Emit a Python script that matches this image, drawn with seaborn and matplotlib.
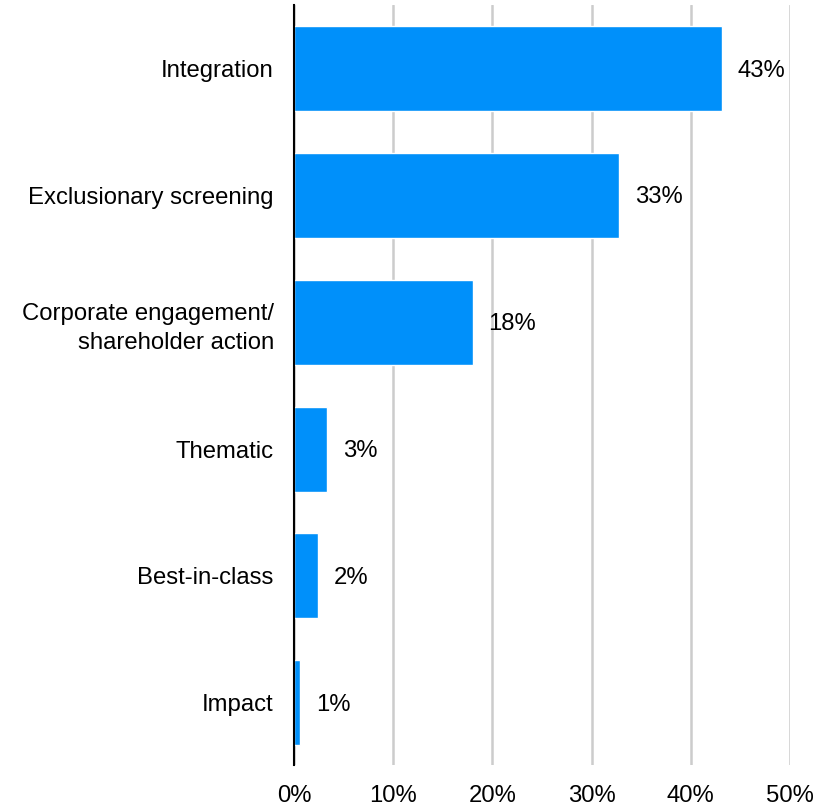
import matplotlib
matplotlib.use("Agg")
import matplotlib.pyplot as plt
import seaborn as sns
import pandas as pd

# Share of assets by responsible-investment strategy (percent)
strategies = [
    "Integration",
    "Exclusionary screening",
    "Corporate engagement/\nshareholder action",
    "Thematic",
    "Best-in-class",
    "Impact",
]
shares = [43.1, 32.8, 18.0, 3.3, 2.4, 0.6]
x_ticks = [0, 10, 20, 30, 40, 50]
x_tick_labels = ["0%", "10%", "20%", "30%", "40%", "50%"]

df = pd.DataFrame({"strategy": strategies, "share": shares})

sns.set_theme(style="white")
plt.rcParams["font.family"] = ["Liberation Sans", "DejaVu Sans"]

fig = plt.figure(figsize=(8.31, 8.07), dpi=100)
ax = fig.add_axes([294 / 831, 1 - 765 / 807, (790 - 294) / 831, (765 - 5) / 807])

sns.barplot(data=df, x="share", y="strategy", orient="h", color="#0090FA",
            saturation=1, width=0.67, ax=ax, zorder=3)

ax.set_xlim(0, 50)
ax.set_ylim(5.49, -0.5)
ax.set_xticks(x_ticks)
ax.set_xticklabels(x_tick_labels)
ax.xaxis.grid(True, color="#CCCCCC", linewidth=1.8, zorder=0)
ax.set_axisbelow(True)
for side in ["top", "right", "bottom"]:
    ax.spines[side].set_visible(False)
ax.spines["left"].set_color("black")
ax.spines["left"].set_linewidth(1.5)
ax.spines["left"].set_zorder(5)
ax.set_xlabel("")
ax.set_ylabel("")
ax.tick_params(axis="both", length=0, labelsize=17.2, colors="black")
ax.tick_params(axis="x", pad=14.5)
ax.tick_params(axis="y", pad=14.5)
for lbl in ax.get_yticklabels():
    lbl.set_linespacing(1.45)

for i, v in enumerate(shares):
    ax.annotate(f"{v:.0f}%", xy=(v, i), xytext=(11.5, -1.5), textcoords="offset points",
                ha="left", va="center", fontsize=17.2, color="black")

fig.savefig("out.png", dpi=100, facecolor="white")
